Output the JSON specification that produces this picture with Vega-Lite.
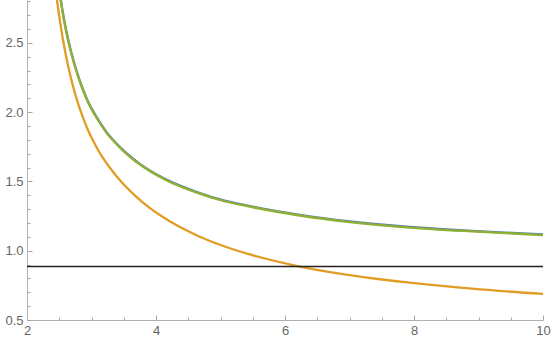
{
  "$schema": "https://vega.github.io/schema/vega-lite/v6.json",
  "autosize": "none",
  "width": 516,
  "height": 320,
  "padding": {"left": 27, "top": 0, "right": 11, "bottom": 26},
  "background": "white",
  "config": {"view": {"stroke": null}},
  "datasets": {
    "curves": [
      {"series": "1", "x": 2.499, "y": 2.904},
      {"series": "1", "x": 2.524, "y": 2.813},
      {"series": "1", "x": 2.602, "y": 2.604},
      {"series": "1", "x": 2.675, "y": 2.452},
      {"series": "1", "x": 2.802, "y": 2.249},
      {"series": "1", "x": 2.932, "y": 2.091},
      {"series": "1", "x": 3.102, "y": 1.947},
      {"series": "1", "x": 3.233, "y": 1.856},
      {"series": "1", "x": 3.439, "y": 1.750},
      {"series": "1", "x": 3.602, "y": 1.680},
      {"series": "1", "x": 3.749, "y": 1.627},
      {"series": "1", "x": 3.904, "y": 1.579},
      {"series": "1", "x": 4.202, "y": 1.504},
      {"series": "1", "x": 4.680, "y": 1.416},
      {"series": "1", "x": 4.992, "y": 1.370},
      {"series": "1", "x": 5.455, "y": 1.322},
      {"series": "1", "x": 6.230, "y": 1.258},
      {"series": "1", "x": 7.005, "y": 1.211},
      {"series": "1", "x": 7.472, "y": 1.189},
      {"series": "1", "x": 7.935, "y": 1.171},
      {"series": "1", "x": 8.902, "y": 1.143},
      {"series": "1", "x": 10, "y": 1.117},
      {"series": "2", "x": 2.44, "y": 2.90},
      {"series": "2", "x": 2.465, "y": 2.809},
      {"series": "2", "x": 2.52, "y": 2.629},
      {"series": "2", "x": 2.584, "y": 2.455},
      {"series": "2", "x": 2.65, "y": 2.307},
      {"series": "2", "x": 2.715, "y": 2.184},
      {"series": "2", "x": 2.775, "y": 2.087},
      {"series": "2", "x": 2.868, "y": 1.960},
      {"series": "2", "x": 2.95, "y": 1.866},
      {"series": "2", "x": 3.0, "y": 1.816},
      {"series": "2", "x": 3.101, "y": 1.727},
      {"series": "2", "x": 3.2, "y": 1.654},
      {"series": "2", "x": 3.3, "y": 1.590},
      {"series": "2", "x": 3.411, "y": 1.525},
      {"series": "2", "x": 3.55, "y": 1.454},
      {"series": "2", "x": 3.7, "y": 1.387},
      {"series": "2", "x": 3.902, "y": 1.309},
      {"series": "2", "x": 4.2, "y": 1.216},
      {"series": "2", "x": 4.5, "y": 1.140},
      {"series": "2", "x": 4.678, "y": 1.101},
      {"series": "2", "x": 4.99, "y": 1.043},
      {"series": "2", "x": 5.453, "y": 0.973},
      {"series": "2", "x": 6.228, "y": 0.886},
      {"series": "2", "x": 7.003, "y": 0.824},
      {"series": "2", "x": 7.47, "y": 0.794},
      {"series": "2", "x": 7.933, "y": 0.770},
      {"series": "2", "x": 8.9, "y": 0.726},
      {"series": "2", "x": 10, "y": 0.688},
      {"series": "3", "x": 2.497, "y": 2.90},
      {"series": "3", "x": 2.522, "y": 2.809},
      {"series": "3", "x": 2.6, "y": 2.60},
      {"series": "3", "x": 2.673, "y": 2.448},
      {"series": "3", "x": 2.8, "y": 2.245},
      {"series": "3", "x": 2.930, "y": 2.087},
      {"series": "3", "x": 3.1, "y": 1.943},
      {"series": "3", "x": 3.231, "y": 1.852},
      {"series": "3", "x": 3.437, "y": 1.746},
      {"series": "3", "x": 3.6, "y": 1.676},
      {"series": "3", "x": 3.747, "y": 1.623},
      {"series": "3", "x": 3.902, "y": 1.575},
      {"series": "3", "x": 4.2, "y": 1.500},
      {"series": "3", "x": 4.678, "y": 1.412},
      {"series": "3", "x": 4.99, "y": 1.366},
      {"series": "3", "x": 5.453, "y": 1.318},
      {"series": "3", "x": 6.228, "y": 1.254},
      {"series": "3", "x": 7.003, "y": 1.207},
      {"series": "3", "x": 7.47, "y": 1.185},
      {"series": "3", "x": 7.933, "y": 1.167},
      {"series": "3", "x": 8.9, "y": 1.139},
      {"series": "3", "x": 10, "y": 1.113}
    ],
    "hline": [{"x": 2, "x2": 10, "y": 0.886}]
  },
  "resolve": {"axis": {"x": "independent", "y": "independent"}},
  "layer": [
    {
      "data": {"name": "curves"},
      "mark": {"type": "line", "clip": true, "interpolate": "monotone", "strokeWidth": 2.3},
      "encoding": {
        "x": {
          "field": "x", "type": "quantitative",
          "scale": {"domain": [2, 10], "nice": false, "zero": false},
          "axis": {
            "title": null,
            "orient": "bottom",
            "values": [2, 4, 6, 8, 10],
            "format": "d",
            "grid": false,
            "domainColor": "#b0b0b0",
            "tickColor": "#a8a8a8",
            "tickSize": -5,
            "labelPadding": 9,
            "labelFont": "Liberation Sans",
            "labelFontSize": 13,
            "labelColor": "#666666",
            "labelFlush": false,
            "labelOverlap": false
          }
        },
        "y": {
          "field": "y", "type": "quantitative",
          "scale": {"domain": [0.5, 2.809], "nice": false, "zero": false},
          "axis": {
            "title": null,
            "orient": "left",
            "values": [0.5, 1.0, 1.5, 2.0, 2.5],
            "format": ".1f",
            "grid": false,
            "domainColor": "#b0b0b0",
            "tickColor": "#a8a8a8",
            "tickSize": -5,
            "labelPadding": 9,
            "labelFont": "Liberation Sans",
            "labelFontSize": 13,
            "labelColor": "#666666",
            "labelFlush": false,
            "labelOverlap": false
          }
        },
        "color": {
          "field": "series", "type": "nominal",
          "scale": {"domain": ["1", "2", "3"], "range": ["#5E81B5", "#E19C24", "#8FB032"]},
          "legend": null
        }
      }
    },
    {
      "data": {"name": "hline"},
      "mark": {"type": "rule", "color": "#222222", "strokeWidth": 1.6},
      "encoding": {
        "x": {
          "field": "x", "type": "quantitative",
          "axis": {
            "title": null,
            "orient": "bottom",
            "values": [2.5, 3, 3.5, 4.5, 5, 5.5, 6.5, 7, 7.5, 8.5, 9, 9.5],
            "labels": false,
            "domain": false,
            "grid": false,
            "tickColor": "#a8a8a8",
            "tickSize": -3
          }
        },
        "x2": {"field": "x2"},
        "y": {
          "field": "y", "type": "quantitative",
          "axis": {
            "title": null,
            "orient": "left",
            "values": [0.6, 0.7, 0.8, 0.9, 1.1, 1.2, 1.3, 1.4, 1.6, 1.7, 1.8, 1.9, 2.1, 2.2, 2.3, 2.4, 2.6, 2.7, 2.8],
            "labels": false,
            "domain": false,
            "grid": false,
            "tickColor": "#a8a8a8",
            "tickSize": -3
          }
        }
      }
    }
  ]
}
